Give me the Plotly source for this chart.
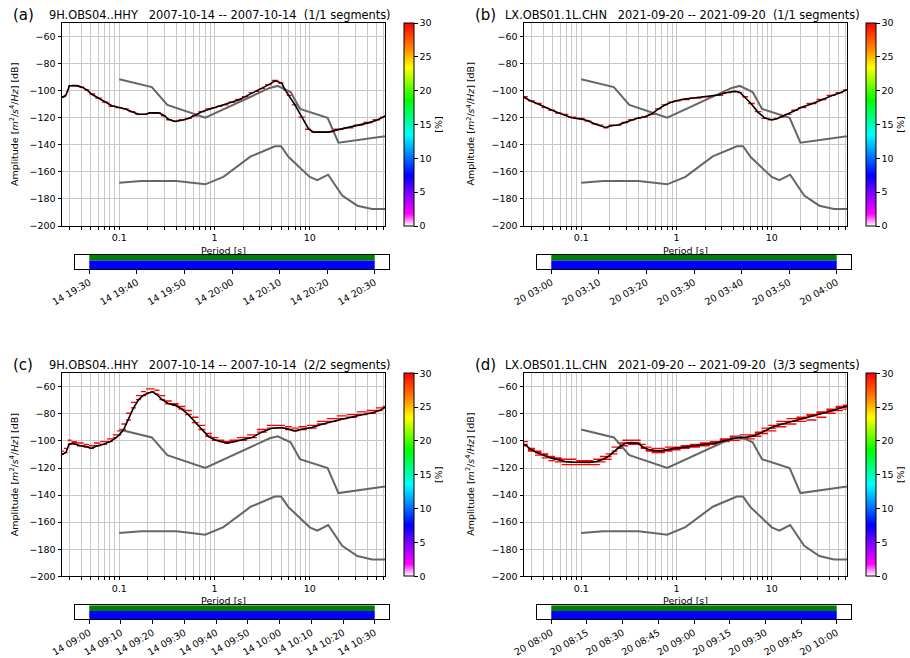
import numpy as np
import pandas as pd
import plotly.graph_objects as go
from plotly.colors import sample_colorscale

FIG_W, FIG_H = 910, 658
FONT = "DejaVu Sans"

# Peterson (1993) low / high noise models, dB values at the model breakpoints
nlnm_period = [0.1, 0.17, 0.4, 0.8, 1.24, 2.4, 4.3, 5.0, 6.0, 10.0, 12.0, 15.6,
               21.9, 31.6, 45.0, 70.0, 101.0]
nlnm_db = [-168.0, -166.7, -166.7, -169.2, -163.7, -148.6, -141.1, -141.1, -149.0,
           -163.8, -166.2, -162.1, -177.5, -185.0, -187.5, -187.5, -185.0]
nhnm_period = [0.1, 0.22, 0.32, 0.8, 3.8, 4.6, 6.3, 7.9, 15.4, 20.0, 354.8]
nhnm_db = [-91.5, -97.4, -110.5, -120.0, -98.0, -96.5, -101.0, -113.5, -120.0,
           -138.5, -126.0]

# (a) 9H.OBS04..HHY, single segment
per_a = [0.0251, 0.0272, 0.0285, 0.0299, 0.0319, 0.0360, 0.0406, 0.0458, 0.0516, 0.0607,
         0.0713, 0.0837, 0.100, 0.116, 0.136, 0.160, 0.188, 0.211, 0.259, 0.292,
         0.329, 0.387, 0.454, 0.533, 0.627, 0.736, 0.863, 1.00, 1.13, 1.29,
         1.52, 1.79, 2.10, 2.47, 2.80, 3.14, 3.68, 4.33, 5.08, 5.51,
         5.97, 7.01, 8.24, 9.68, 10.9, 13.0, 15.7, 20.0, 25.5, 32.4,
         41.2, 50.4, 59.3, 61.6]
mean_a = [-105.0, -104.0, -101.0, -96.5, -96.2, -96.3, -97.4, -99.4, -102.7, -105.6,
          -108.6, -111.1, -112.4, -113.6, -115.6, -117.4, -117.4, -116.4, -116.4, -118.1,
          -121.1, -122.8, -121.8, -120.6, -118.1, -115.6, -113.9, -112.6, -111.4, -110.1,
          -108.6, -106.9, -104.4, -101.9, -100.2, -98.7, -95.7, -92.7, -94.4, -99.4,
          -103.2, -110.6, -119.3, -128.1, -130.6, -130.6, -130.6, -128.8, -127.3, -125.6,
          -123.8, -121.8, -119.3, -118.8]

# (b) LX.OBS01.1L.CHN, single segment
per_b = [0.0252, 0.0301, 0.0354, 0.0416, 0.0489, 0.0574, 0.0675, 0.0793, 0.100, 0.118,
         0.139, 0.163, 0.180, 0.208, 0.244, 0.287, 0.337, 0.396, 0.466, 0.547,
         0.643, 0.755, 0.870, 1.00, 1.22, 1.56, 2.15, 2.74, 3.48, 4.09,
         4.62, 5.21, 6.12, 7.19, 8.45, 9.93, 11.2, 12.6, 14.8, 17.4,
         20.5, 26.1, 33.2, 42.3, 51.6, 60.7, 61.6]
mean_b = [-104.9, -107.9, -109.9, -112.3, -114.3, -116.3, -118.0, -120.0, -121.0, -122.2,
          -124.7, -125.9, -127.2, -125.9, -125.4, -123.5, -121.7, -120.2, -119.3, -117.3,
          -113.6, -110.6, -108.8, -107.4, -106.2, -105.4, -104.2, -103.2, -101.2, -100.5,
          -101.2, -104.9, -109.9, -116.0, -120.2, -121.5, -121.0, -119.3, -117.3, -114.8,
          -112.3, -109.9, -106.9, -103.7, -101.7, -99.5, -99.3]

# (c) 9H.OBS04..HHY, two segments
per_c = [0.0251, 0.0276, 0.0299, 0.0332, 0.0390, 0.0458, 0.0508, 0.0583, 0.0686, 0.0805,
         0.0908, 0.100, 0.111, 0.125, 0.141, 0.160, 0.180, 0.203, 0.224, 0.248,
         0.281, 0.329, 0.387, 0.454, 0.533, 0.627, 0.736, 0.865, 1.02, 1.19,
         1.35, 1.52, 1.94, 2.47, 3.14, 3.99, 5.08, 5.97, 7.01, 8.24,
         10.5, 13.4, 17.0, 21.7, 27.6, 35.1, 44.7, 54.7, 61.6]
mean_c = [-110.0, -108.5, -102.2, -102.0, -103.5, -104.2, -105.5, -103.7, -102.5, -100.5,
          -98.0, -95.5, -91.8, -84.4, -75.7, -69.4, -66.2, -64.5, -63.7, -65.7,
          -69.4, -72.4, -73.7, -76.4, -80.6, -86.1, -91.8, -96.8, -99.3, -100.5,
          -101.7, -101.0, -99.3, -97.5, -93.5, -90.6, -90.1, -91.1, -92.5, -91.3,
          -90.1, -87.6, -85.6, -83.9, -82.4, -80.6, -79.4, -77.4, -75.2]
seg_c_high = [-108.0, -106.0, -100.0, -100.5, -101.5, -102.5, -103.5, -102.0, -101.0, -99.0,
              -96.0, -93.0, -88.0, -80.0, -72.0, -66.5, -63.5, -62.0, -61.5, -63.0,
              -66.5, -71.0, -72.5, -74.5, -78.0, -83.0, -89.0, -95.0, -98.0, -99.5,
              -100.5, -99.5, -97.5, -95.5, -91.5, -89.0, -88.5, -90.0, -91.0, -90.0,
              -88.5, -85.5, -83.5, -82.0, -80.5, -78.5, -77.5, -75.5, -74.5]

# (d) LX.OBS01.1L.CHN, three segments
per_d = [0.0252, 0.0301, 0.0354, 0.0416, 0.0489, 0.0574, 0.0675, 0.0793, 0.100, 0.123,
         0.145, 0.170, 0.192, 0.226, 0.255, 0.287, 0.337, 0.396, 0.447, 0.504,
         0.593, 0.697, 0.818, 1.00, 1.22, 1.56, 1.98, 2.52, 3.21, 4.09,
         5.21, 6.12, 7.19, 8.45, 9.93, 12.6, 16.1, 20.5, 26.1, 33.2,
         42.3, 51.6, 60.7, 61.6]
mean_d = [-102.4, -106.6, -109.0, -111.0, -112.7, -113.9, -115.2, -115.7, -115.9, -115.9,
          -115.2, -113.5, -111.5, -107.3, -104.1, -101.9, -101.2, -101.7, -104.6, -106.1,
          -107.1, -107.1, -106.1, -105.3, -104.6, -103.4, -102.4, -101.7, -99.7, -98.0,
          -97.2, -96.7, -95.0, -92.5, -90.1, -87.6, -85.7, -83.9, -82.0, -80.0,
          -77.8, -75.8, -74.6, -74.5]
seg_d_high = [-101.0, -105.5, -108.0, -110.0, -111.5, -112.5, -113.5, -114.0, -114.5, -114.5,
              -114.0, -112.0, -109.5, -105.0, -102.0, -100.0, -99.5, -100.0, -103.0, -105.0,
              -106.0, -106.0, -105.0, -104.5, -103.5, -102.5, -101.5, -100.5, -98.5, -97.0,
              -96.0, -95.5, -93.5, -91.0, -88.5, -86.0, -84.0, -82.5, -80.5, -78.5,
              -76.5, -74.5, -73.5, -73.5]
seg_d_low = [-103.5, -108.0, -110.5, -112.5, -114.5, -116.0, -117.5, -118.0, -118.0, -118.0,
             -117.5, -115.5, -113.5, -109.5, -106.0, -103.5, -102.5, -103.0, -106.0, -108.0,
             -109.0, -109.0, -108.0, -107.0, -106.0, -104.5, -103.5, -102.5, -101.0, -99.5,
             -98.5, -98.5, -97.0, -95.0, -92.5, -90.0, -88.0, -86.0, -84.5, -82.5,
             -80.0, -78.0, -76.5, -76.5]

panel_labels = ["(a)", "(b)", "(c)", "(d)"]
panel_titles = [
    "9H.OBS04..HHY   2007-10-14 -- 2007-10-14  (1/1 segments)",
    "LX.OBS01.1L.CHN   2021-09-20 -- 2021-09-20  (1/1 segments)",
    "9H.OBS04..HHY   2007-10-14 -- 2007-10-14  (2/2 segments)",
    "LX.OBS01.1L.CHN   2021-09-20 -- 2021-09-20  (3/3 segments)",
]
periods = [per_a, per_b, per_c, per_d]
means = [mean_a, mean_b, mean_c, mean_d]
segments = [[mean_a], [mean_b], [seg_c_high, mean_c], [seg_d_high, mean_d, seg_d_low]]

# data coverage (start, end) and date tick spacing in minutes
coverage = [
    ("2007-10-14 19:30", "2007-10-14 20:30"),
    ("2021-09-20 03:00", "2021-09-20 04:00"),
    ("2007-10-14 09:00", "2007-10-14 10:30"),
    ("2021-09-20 08:00", "2021-09-20 10:00"),
]
tick_minutes = [10, 10, 10, 15]

db_ticks = list(range(-200, -59, 20))
pct_ticks = [0, 5, 10, 15, 20, 25, 30]
PCT_MAX = 30
DB_BIN = 1.0
PERIOD_RANGE = (0.0251, 61.6)
period_ticks = [m * 10.0 ** e for e in (-2, -1, 0, 1) for m in range(1, 10)
                if PERIOD_RANGE[0] <= m * 10.0 ** e <= PERIOD_RANGE[1]]
period_ticktext = [("%g" % v) if abs(np.log10(v) - round(np.log10(v))) < 1e-9 else ""
                   for v in period_ticks]

# PQLX-like probability colormap
pqlx = [[0.0, "#ffffff"], [0.06, "#ff00ff"], [0.16, "#8000ff"], [0.25, "#0000ff"],
        [0.45, "#00ffff"], [0.62, "#00ff00"], [0.78, "#ffff00"], [0.88, "#ff8000"],
        [1.0, "#ff0000"]]

GRID = "#c8c8c8"
GRAY = "#666666"
TICK_SIZE = 9.5


def fx(px):
    return px / FIG_W


def fy(py):
    return 1 - py / FIG_H


def histogram_cells(per, segs):
    """Occupied (period, 1 dB) cells with the percentage of segments in each."""
    logp = np.log10(np.asarray(per, dtype=float))
    mids = (logp[:-1] + logp[1:]) / 2
    edges = 10 ** np.concatenate([[2 * logp[0] - mids[0]], mids, [2 * logp[-1] - mids[-1]]])
    counts = {}
    for s in segs:
        for j, v in enumerate(s):
            lo = np.floor(v / DB_BIN) * DB_BIN
            counts[(j, lo)] = counts.get((j, lo), 0) + 1
    cells = []
    for (j, lo), c in counts.items():
        cells.append((edges[j], edges[j + 1], lo, lo + DB_BIN,
                      np.sqrt(edges[j] * edges[j + 1]), lo + DB_BIN / 2,
                      100.0 * c / len(segs)))
    return cells


fig = go.Figure()
layout = dict(
    width=FIG_W, height=FIG_H, autosize=False,
    margin=dict(l=0, r=0, t=0, b=0, pad=0, autoexpand=False),
    paper_bgcolor="white", plot_bgcolor="white",
    font=dict(family=FONT, size=TICK_SIZE, color="black"),
    showlegend=False,
)
annotations = []
shapes = []

for i in range(4):
    col, row = i % 2, i // 2
    L = [62, 524][col]
    T = [23, 373.3][row]
    ax_m = 2 * i + 1
    ax_t = 2 * i + 2
    xm, ym = "x%d" % ax_m, "y%d" % ax_m
    xt, yt = "x%d" % ax_t, "y%d" % ax_t

    cells = histogram_cells(periods[i], segments[i])
    # histogram cells, grouped by their colour on the probability scale
    groups = {}
    for x0, x1, y0, y1, xc, yc, pct in cells:
        colr = sample_colorscale(pqlx, [min(pct, PCT_MAX) / PCT_MAX])[0]
        gx, gy = groups.setdefault(colr, ([], []))
        gx.extend([x0, x1, x1, x0, x0, None])
        gy.extend([y0, y0, y1, y1, y0, None])
    for colr, (gx, gy) in groups.items():
        fig.add_trace(go.Scatter(x=gx, y=gy, xaxis=xm, yaxis=ym, mode="lines",
                                 fill="toself", fillcolor=colr, line=dict(width=0),
                                 hoverinfo="skip"))
    # cell centres carry the percentage scale
    fig.add_trace(go.Scatter(
        x=[c[4] for c in cells], y=[c[5] for c in cells], xaxis=xm, yaxis=ym,
        mode="markers", hoverinfo="skip",
        marker=dict(size=1, opacity=0, color=[c[6] for c in cells],
                    colorscale=pqlx, cmin=0, cmax=PCT_MAX, showscale=True,
                    colorbar=dict(
                        x=fx(L + 342), xanchor="left", xpad=0,
                        y=fy(T + 101.5), yanchor="middle", ypad=0,
                        len=203 / FIG_H, lenmode="fraction",
                        thickness=10, thicknessmode="pixels",
                        outlinewidth=1, outlinecolor="black",
                        ticks="outside", ticklen=3.5, tickcolor="black",
                        tickvals=pct_ticks, tickfont=dict(size=TICK_SIZE),
                        title=dict(text="[%]", side="right",
                                   font=dict(size=TICK_SIZE)),
                    )),
    ))
    fig.add_trace(go.Scatter(x=nlnm_period, y=nlnm_db, xaxis=xm, yaxis=ym, mode="lines",
                             line=dict(color=GRAY, width=2), hoverinfo="skip"))
    fig.add_trace(go.Scatter(x=nhnm_period, y=nhnm_db, xaxis=xm, yaxis=ym, mode="lines",
                             line=dict(color=GRAY, width=2), hoverinfo="skip"))
    fig.add_trace(go.Scatter(x=periods[i], y=means[i], xaxis=xm, yaxis=ym, mode="lines",
                             line=dict(color="black", width=1.6), hoverinfo="skip"))

    layout["xaxis%d" % ax_m] = dict(
        type="log", range=[np.log10(PERIOD_RANGE[0]), np.log10(PERIOD_RANGE[1])],
        domain=[fx(L), fx(L + 323)], anchor=ym,
        tickmode="array", tickvals=period_ticks, ticktext=period_ticktext,
        showgrid=True, gridcolor=GRID, gridwidth=1,
        showline=True, linecolor="black", linewidth=1, mirror=True,
        ticks="outside", ticklen=3, tickcolor="black", zeroline=False,
        tickfont=dict(size=TICK_SIZE), automargin=False,
    )
    layout["yaxis%d" % ax_m] = dict(
        range=[-200, -50], domain=[fy(T + 203), fy(T)], anchor=xm,
        tickmode="array", tickvals=db_ticks,
        ticktext=[("\u2212%d" % -v) for v in db_ticks],
        showgrid=True, gridcolor=GRID, gridwidth=1,
        showline=True, linecolor="black", linewidth=1, mirror=True,
        ticks="outside", ticklen=3.5, tickcolor="black", zeroline=False,
        tickfont=dict(size=TICK_SIZE), automargin=False,
    )

    start = pd.Timestamp(coverage[i][0])
    end = pd.Timestamp(coverage[i][1])
    pad = (end - start) * 0.05
    fmt = "%Y-%m-%d %H:%M:%S"
    layout["xaxis%d" % ax_t] = dict(
        type="date", range=[(start - pad).strftime(fmt), (end + pad).strftime(fmt)],
        domain=[fx(L + 13), fx(L + 327)], anchor=yt,
        tickmode="linear", tick0=start.strftime(fmt), dtick=tick_minutes[i] * 60000,
        tickformat="%d %H:%M", tickangle=-30,
        showgrid=False, showline=True, linecolor="black", linewidth=1, mirror=True,
        ticks="outside", ticklen=3.5, tickcolor="black",
        tickfont=dict(size=TICK_SIZE), automargin=False,
    )
    layout["yaxis%d" % ax_t] = dict(
        range=[0, 1], domain=[fy(T + 246), fy(T + 232)], anchor=xt,
        showticklabels=False, ticks="", showgrid=False, zeroline=False,
        showline=True, linecolor="black", linewidth=1, mirror=True, automargin=False,
    )
    # coverage: data (green, upper part) and processed segments (blue, lower part)
    shapes.append(dict(type="rect", xref=xt, yref=yt, x0=start.strftime(fmt),
                       x1=end.strftime(fmt), y0=0.6, y1=1, fillcolor="#008000",
                       line=dict(width=0), layer="below"))
    shapes.append(dict(type="rect", xref=xt, yref=yt, x0=start.strftime(fmt),
                       x1=end.strftime(fmt), y0=0, y1=0.6, fillcolor="#0000ff",
                       line=dict(width=0), layer="below"))

    annotations.append(dict(text=panel_labels[i], x=fx(L - 39), y=fy(T - 8),
                            xref="paper", yref="paper", showarrow=False,
                            xanchor="center", yanchor="middle", font=dict(size=15)))
    annotations.append(dict(text=panel_titles[i].replace(" ", "\u00a0"),
                            x=fx(L + 158), y=fy(T - 8), xref="paper", yref="paper",
                            showarrow=False, xanchor="center", yanchor="middle",
                            font=dict(size=11.4)))
    annotations.append(dict(text="Period [s]", x=fx(L + 161.5), y=fy(T + 227),
                            xref="paper", yref="paper", showarrow=False,
                            xanchor="center", yanchor="middle",
                            font=dict(size=TICK_SIZE)))
    annotations.append(dict(
        text="Amplitude [<i>m</i><sup>2</sup>/<i>s</i><sup>4</sup>/<i>Hz</i>] [dB]",
        x=fx([13.5, 470][col]), y=fy(T + 101.5), xref="paper", yref="paper",
        showarrow=False, xanchor="center", yanchor="middle", textangle=-90,
        font=dict(size=TICK_SIZE)))

layout["annotations"] = annotations
layout["shapes"] = shapes
fig.update_layout(**layout)
fig.write_html("out.html")
